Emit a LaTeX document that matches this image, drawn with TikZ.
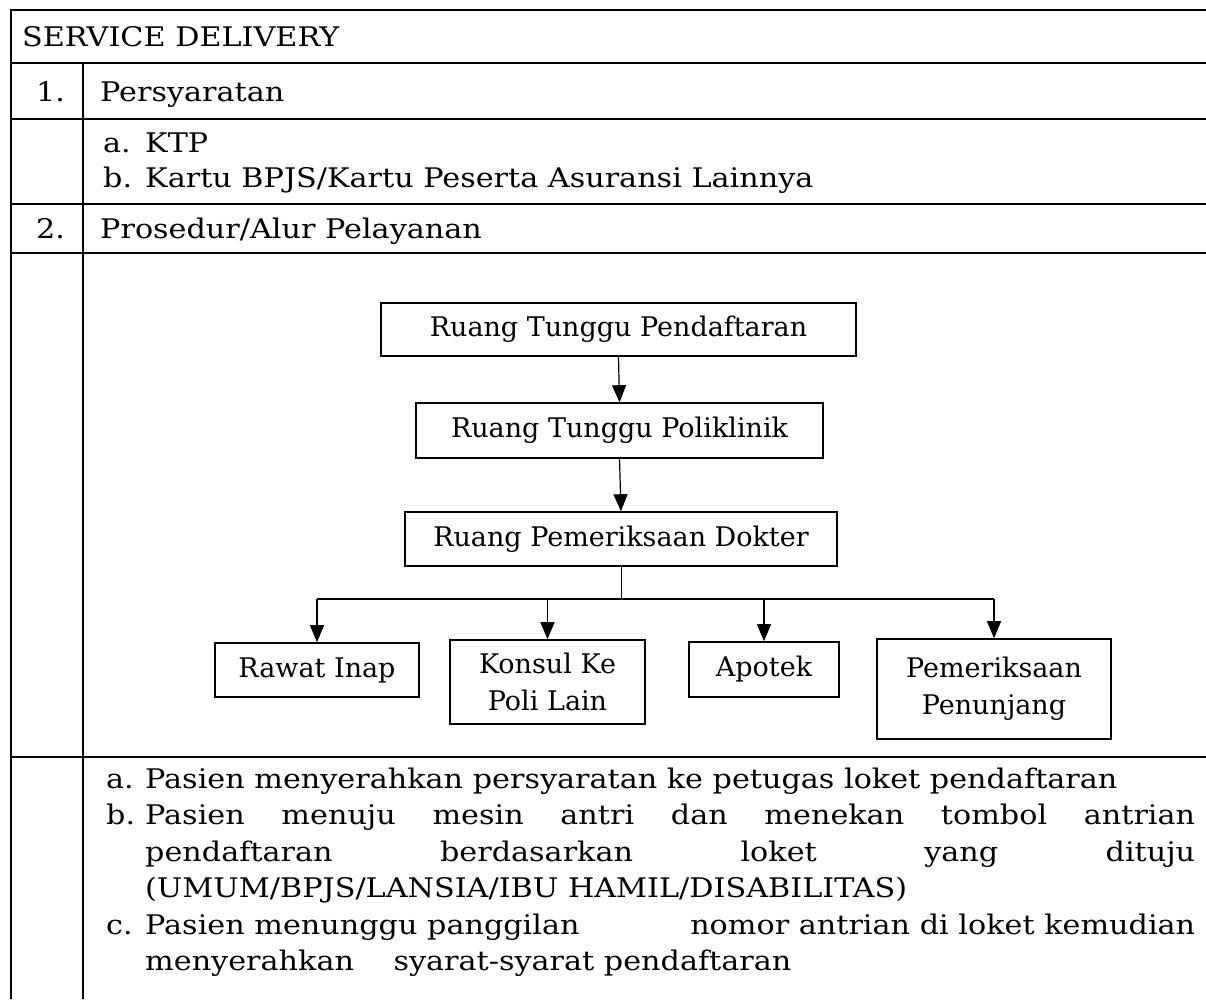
\documentclass[tikz,border=0pt]{standalone}
\usepackage{fontspec}
\setmainfont{DejaVu Serif}
\newfontfamily\tabfont{DejaVu Serif}[FakeStretch=1.12]
\usetikzlibrary{arrows.meta}
\usetikzlibrary{positioning}

\begin{document}
\begin{tikzpicture}[x=1pt, y=-1pt,
    every node/.style={font=\fontsize{27}{37}\selectfont, inner sep=0pt},
    cell/.style={anchor=base west, font=\fontsize{27}{37}\tabfont},
    box/.style={draw, line width=1.6pt, align=center},
    arr/.style={-{Triangle[width=14pt,length=17pt]}, line width=1.2pt},
    rule/.style={line width=1.3pt}]
	\useasboundingbox (0,0) rectangle (1206,999);
	% table frame
	\draw[rule] (1206,10) -- (11,10) -- (11,999);
	\draw[rule] (83,63) -- (83,999);
	\foreach \y in {63,119,204,253,757}
		\draw[rule] (11,\y) -- (1206,\y);
	% table text
	\node[cell] (title) at (22,46) {SERVICE DELIVERY};
	\node[cell] (no1) at (36,101) {1.};
	\node[cell] (syarat) at (100,101) {Persyaratan};
	\node[cell] (sa) at (103,152) {a.};
	\node[cell] (ktp) at (145,152) {KTP};
	\node[cell] (sb) at (103,187) {b.};
	\node[cell] (kartu) at (145,187) {Kartu BPJS/Kartu Peserta Asuransi Lainnya};
	\node[cell] (no2) at (36,238) {2.};
	\node[cell] (alur) at (100,238) {Prosedur/Alur Pelayanan};
	% flow
	\node[box, minimum width=475pt, minimum height=53pt] (daftar) at (618.5,329.5) {Ruang Tunggu Pendaftaran};
	\node[box, minimum width=407pt, minimum height=55pt] (poli) at (619.5,430.5) {Ruang Tunggu Poliklinik};
	\node[box, minimum width=432pt, minimum height=54pt] (dokter) at (621,539) {Ruang Pemeriksaan Dokter};
	\node[box, minimum width=204pt, minimum height=54pt] (rawat) at (317,670) {Rawat Inap};
	\node[box, minimum width=195pt, minimum height=84pt] (konsul) at (547.5,682) {Konsul Ke\\Poli Lain};
	\node[box, minimum width=150pt, minimum height=55pt] (apotek) at (764,669.5) {Apotek};
	\node[box, minimum width=234pt, minimum height=100pt] (penunjang) at (994,689) {Pemeriksaan\\Penunjang};
	\draw[arr] (daftar.south) -- (poli.north);
	\draw[arr] (poli.south) -- (dokter.north);
	\coordinate (fork) at (622,599);
	\draw[line width=0.8pt] (dokter.south) -- (dokter.south |- fork);
	\draw[line width=1.6pt] (fork -| rawat) -- (fork -| penunjang);
	\foreach \b in {rawat,konsul,apotek,penunjang}
		\draw[arr] (fork -| \b) -- (\b.north);
	% steps
	\node[cell] (ka) at (106,788) {a.};
	\node[cell] (ta) at (145,788) {Pasien menyerahkan persyaratan ke petugas loket pendaftaran};
	\node[cell] (kb) at (106,824) {b.};
	\node[cell] (tb1) at (145,824) {\makebox[1050pt][s]{Pasien menuju mesin antri dan menekan tombol antrian}};
	\node[cell] (tb2) at (145,861) {\makebox[1050pt][s]{pendaftaran berdasarkan loket yang dituju}};
	\node[cell] (tb3) at (145,897) {(UMUM/BPJS/LANSIA/IBU HAMIL/DISABILITAS)};
	\node[cell] (kc) at (106,934) {c.};
	\node[cell] (tc1) at (145,934) {\makebox[1050pt][l]{Pasien menunggu panggilan\hfill nomor antrian di loket kemudian}};
	\node[cell] (tc2) at (145,970) {menyerahkan\hspace{30pt} syarat-syarat pendaftaran};
\end{tikzpicture}
\end{document}
